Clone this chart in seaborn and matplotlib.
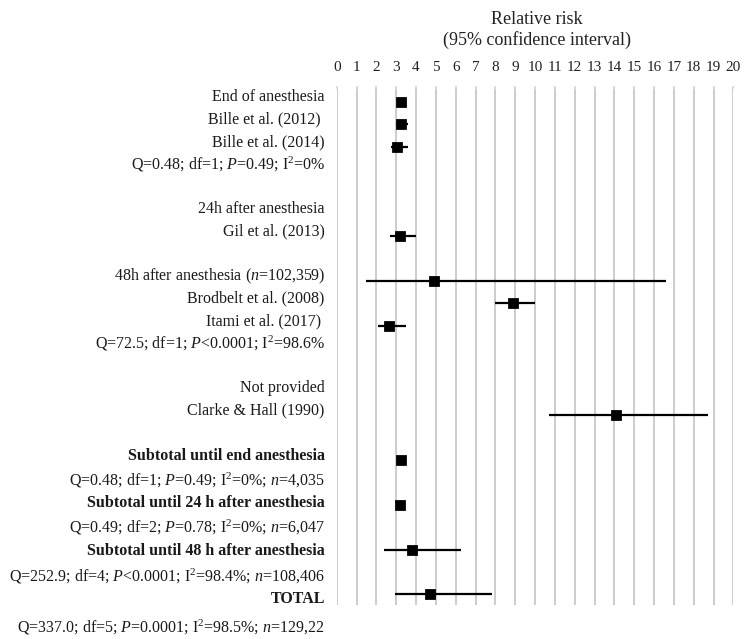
import matplotlib
matplotlib.use("Agg")
import matplotlib.pyplot as plt
import matplotlib.transforms as mtransforms
import seaborn as sns
import pandas as pd

# text rows, top to bottom
labels = [
    "End of anesthesia",
    "Bille et al. (2012) ",
    "Bille et al. (2014)",
    r"Q=0.48; df=1; $P$=0.49; I$^2$=0%",
    "",
    "24h after anesthesia",
    "Gil et al. (2013)",
    "",
    r"48h after anesthesia ($n$=102,359)",
    "Brodbelt et al. (2008)",
    "Itami et al. (2017) ",
    r"Q=72.5; df=1; $P$<0.0001; I$^2$=98.6%",
    "",
    "Not provided",
    "Clarke & Hall (1990)",
    "",
    "Subtotal until end anesthesia",
    r"Q=0.48; df=1; $P$=0.49; I$^2$=0%; $n$=4,035",
    "Subtotal until 24 h after anesthesia",
    r"Q=0.49; df=2; $P$=0.78; I$^2$=0%; $n$=6,047",
    "Subtotal until 48 h after anesthesia",
    r"Q=252.9; df=4; $P$<0.0001; I$^2$=98.4%; $n$=108,406",
    "TOTAL",
    r"Q=337.0; df=5; $P$=0.0001; I$^2$=98.5%; $n$=129,22",
]
bold_labels = ["Subtotal until end anesthesia",
               "Subtotal until 24 h after anesthesia",
               "Subtotal until 48 h after anesthesia",
               "TOTAL"]

# estimates
study = ["End of anesthesia", "Bille et al. (2012) ", "Bille et al. (2014)",
         "Gil et al. (2013)", r"48h after anesthesia ($n$=102,359)",
         "Brodbelt et al. (2008)", "Itami et al. (2017) ", "Clarke & Hall (1990)",
         "Subtotal until end anesthesia", "Subtotal until 24 h after anesthesia",
         "Subtotal until 48 h after anesthesia", "TOTAL"]
rr = [3.25, 3.25, 3.05, 3.2, 4.9, 8.9, 2.65, 14.1, 3.25, 3.2, 3.8, 4.7]
ci_low = [3.1, 3.0, 2.75, 2.7, 1.5, 8.0, 2.1, 10.7, 3.1, 3.05, 2.4, 2.95]
ci_high = [3.4, 3.6, 3.6, 4.0, 16.6, 10.0, 3.5, 18.7, 3.4, 3.35, 6.25, 7.85]

ticks = list(range(0, 21))

sns.set_theme(style="white")
plt.rcParams["font.family"] = ["Liberation Serif", "DejaVu Serif"]
plt.rcParams["mathtext.fontset"] = "custom"
plt.rcParams["mathtext.rm"] = "Liberation Serif"
plt.rcParams["mathtext.it"] = "Liberation Serif:italic"
plt.rcParams["mathtext.bf"] = "Liberation Serif:bold"

df = pd.DataFrame({"study": study, "rr": rr, "lo": ci_low, "hi": ci_high})
df["row"] = [labels.index(s) for s in df["study"]]

fig = plt.figure(figsize=(7.54, 6.39), dpi=100)
ax = fig.add_axes([0.4466, 0.0532, 0.5260, 0.8075])

ax.hlines(df["row"], df["lo"], df["hi"], color="black", lw=1.6, zorder=3)
sns.scatterplot(data=df, x="rr", y="row", marker="s", s=50, color="black",
                edgecolor="black", zorder=4, ax=ax, legend=False)

ax.set_xlim(0, 20)
ax.set_ylim(22.47, -0.57)
ax.set_xticks(ticks)
ax.xaxis.tick_top()
ax.tick_params(axis="x", top=True, length=2, color="#d8d8d8", pad=9,
               labelsize=11, labelcolor="#222222")
ax.set_yticks([])
ax.set_xlabel("")
ax.set_ylabel("")
ax.grid(axis="x", color="#c8c8c8", lw=1.3)
ax.set_axisbelow(True)
sns.despine(ax=ax, left=True, bottom=True, top=True, right=True)

# label rows drawn beside the axes
label_y = [i - 0.2 for i in range(17)] + [16.9, 17.9, 19.0, 20.05, 21.2, 22.2, 23.45]
trans = mtransforms.blended_transform_factory(ax.transAxes, ax.transData)
for txt, y in zip(labels, label_y):
    if not txt:
        continue
    ax.text(-0.03, y, txt, transform=trans, ha="right", va="center",
            fontsize=11.5, color="#1a1a1a", clip_on=False,
            fontweight="bold" if txt in bold_labels else "normal")

fig.text(0.712, 1 - 11 / 639, "Relative risk\n(95% confidence interval)",
         ha="center", va="top", fontsize=13, linespacing=1.2, color="#222222")

fig.savefig("out.png", dpi=100)
